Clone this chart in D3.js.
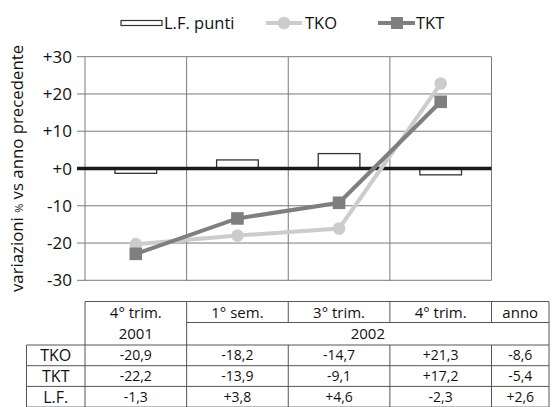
<!DOCTYPE html>
<html><head><meta charset="utf-8">
<script src="https://cdn.jsdelivr.net/npm/d3@7"></script>
<style>body{margin:0;background:#fff}svg{display:block}text{font-family:"Open Sans",sans-serif;fill:#111}</style>
</head><body><svg id="c" width="553" height="407"></svg>
<script>
const categories = ["4° trim. 2001", "1° sem. 2002", "3° trim. 2002", "4° trim. 2002"];
const lfBars = [-1.3, 2.3, 4.0, -1.7];
const tkoValues = [-20.3, -18.0, -16.1, 22.8];
const tktValues = [-22.9, -13.4, -9.2, 17.9];
const yTicks = [-30, -20, -10, 0, 10, 20, 30];
const yTickLabels = ["-30", "-20", "-10", "+0", "+10", "+20", "+30"];
const tableHeader1 = ["4° trim.", "1° sem.", "3° trim.", "4° trim.", "anno"];
const tableYears = ["2001", "2002"];
const tableRowLabels = ["TKO", "TKT", "L.F."];
const tableTKO = ["-20,9", "-18,2", "-14,7", "+21,3", "-8,6"];
const tableTKT = ["-22,2", "-13,9", "-9,1", "+17,2", "-5,4"];
const tableLF = ["-1,3", "+3,8", "+4,6", "-2,3", "+2,6"];
const legendLabels = ["L.F. punti", "TKO", "TKT"];

const svg = d3.select("#c");
const L = 85, R = 491.5, T = 56.7, B = 280.3;
const x = d3.scaleBand().domain(categories).range([L, R]).padding(0);
const y = d3.scaleLinear().domain([-30, 30]).range([B, T]);
const gridC = "#7a7a7a", tkoC = "#cccccc", tktC = "#7f7f7f";

const g = svg.append("g");
g.selectAll("line.h").data(yTicks).join("line")
  .attr("x1", L - 8).attr("x2", R).attr("y1", d => y(d)).attr("y2", d => y(d))
  .attr("stroke", gridC).attr("stroke-width", 1);
const vlines = categories.map(c => x(c)).concat([R]);
g.selectAll("line.v").data(vlines).join("line")
  .attr("x1", d => d).attr("x2", d => d).attr("y1", T).attr("y2", B)
  .attr("stroke", gridC).attr("stroke-width", 1);

svg.append("g").selectAll("text").data(yTicks).join("text")
  .attr("x", 72).attr("y", d => y(d)).attr("dy", "0.36em")
  .attr("text-anchor", "end").attr("font-size", 17)
  .text((d, i) => yTickLabels[i]);

const yt = svg.append("text").attr("transform", `translate(23,${(T + B) / 2}) rotate(-90)`)
  .attr("text-anchor", "middle").attr("font-size", 16.8).attr("fill", "#222");
yt.append("tspan").text("variazioni ");
yt.append("tspan").attr("font-size", 11).text("%");
yt.append("tspan").text(" vs anno precedente");

const bw = x.bandwidth() * 0.41;
svg.append("g").selectAll("rect").data(lfBars).join("rect")
  .attr("x", (d, i) => x(categories[i]) + x.bandwidth() / 2 - bw / 2)
  .attr("width", bw)
  .attr("y", d => y(Math.max(0, d)))
  .attr("height", d => Math.abs(y(d) - y(0)))
  .attr("fill", "#fff").attr("stroke", "#333").attr("stroke-width", 1.3);

svg.append("line").attr("x1", L - 8).attr("x2", R).attr("y1", y(0)).attr("y2", y(0))
  .attr("stroke", "#1a1a1a").attr("stroke-width", 3.5);

const cx = (d, i) => x(categories[i]) + x.bandwidth() / 2;
const line = d3.line().x((d, i) => cx(d, i)).y(d => y(d));
svg.append("path").attr("d", line(tkoValues)).attr("fill", "none").attr("stroke", tkoC).attr("stroke-width", 4);
svg.append("g").selectAll("circle").data(tkoValues).join("circle")
  .attr("cx", cx).attr("cy", d => y(d)).attr("r", 6.3).attr("fill", tkoC);
svg.append("path").attr("d", line(tktValues)).attr("fill", "none").attr("stroke", tktC).attr("stroke-width", 4);
svg.append("g").selectAll("rect").data(tktValues).join("rect")
  .attr("x", (d, i) => cx(d, i) - 6.3).attr("y", d => y(d) - 6.3)
  .attr("width", 12.6).attr("height", 12.6).attr("fill", tktC);

const ly = 23;
const lg = svg.append("g");
lg.append("rect").attr("x", 121).attr("y", ly - 2.5).attr("width", 41).attr("height", 5)
  .attr("fill", "#fff").attr("stroke", "#333").attr("stroke-width", 1.2);
lg.append("text").attr("x", 164).attr("y", ly).attr("dy", "0.36em").attr("font-size", 16.5).text(legendLabels[0]);
lg.append("line").attr("x1", 266).attr("x2", 302).attr("y1", ly).attr("y2", ly).attr("stroke", tkoC).attr("stroke-width", 4);
lg.append("circle").attr("cx", 284).attr("cy", ly).attr("r", 6.3).attr("fill", tkoC);
lg.append("text").attr("x", 305).attr("y", ly).attr("dy", "0.36em").attr("font-size", 16.5).text(legendLabels[1]);
lg.append("line").attr("x1", 378).attr("x2", 415).attr("y1", ly).attr("y2", ly).attr("stroke", tktC).attr("stroke-width", 4);
lg.append("rect").attr("x", 391).attr("y", ly - 6).attr("width", 12).attr("height", 12).attr("fill", tktC);
lg.append("text").attr("x", 416).attr("y", ly).attr("dy", "0.36em").attr("font-size", 16.5).text(legendLabels[2]);

const tc = "#555";
const colEdges = vlines.concat([549]);
const tTop = 301.5, tRow1 = 322.5, tHead = 345, rowH = 20.7;
const tg = svg.append("g").attr("stroke", tc).attr("stroke-width", 1).attr("fill", "none");
const hl = (x1, x2, yy) => tg.append("line").attr("x1", x1).attr("x2", x2).attr("y1", yy).attr("y2", yy);
const vl = (xx, y1, y2) => tg.append("line").attr("x1", xx).attr("x2", xx).attr("y1", y1).attr("y2", y2);
const tLeft = 26.5, tBottom = tHead + rowH * 3;
hl(L, 549, tTop);
hl(colEdges[1], 549, tRow1);
for (let r = 0; r <= 3; r++) hl(tLeft, 549, tHead + rowH * r);
vl(tLeft, tHead, tBottom);
vl(L, tTop, tBottom);
vl(549, tTop, tBottom);
vl(colEdges[1], tTop, tBottom);
[2, 3, 4].forEach(k => { vl(colEdges[k], tTop, tRow1); vl(colEdges[k], tHead, tBottom); });

const colMid = k => (colEdges[k] + colEdges[k + 1]) / 2;
const tt = svg.append("g");
tableHeader1.forEach((t, k) => tt.append("text").attr("x", colMid(k)).attr("y", (tTop + tRow1) / 2 + 1)
  .attr("dy", "0.36em").attr("text-anchor", "middle").attr("font-size", 15).text(t));
tt.append("text").attr("x", colMid(0)).attr("y", (tRow1 + tHead) / 2).attr("dy", "0.36em")
  .attr("text-anchor", "middle").attr("font-size", 15).text(tableYears[0]);
tt.append("text").attr("x", (colEdges[1] + 549) / 2).attr("y", (tRow1 + tHead) / 2).attr("dy", "0.36em")
  .attr("text-anchor", "middle").attr("font-size", 15).text(tableYears[1]);
[tableTKO, tableTKT, tableLF].forEach((row, r) => {
  const yy = tHead + rowH * r + rowH / 2;
  tt.append("text").attr("x", (tLeft + L) / 2).attr("y", yy).attr("dy", "0.36em")
    .attr("text-anchor", "middle").attr("font-size", 16).text(tableRowLabels[r]);
  row.forEach((v, k) => tt.append("text").attr("x", colMid(k)).attr("y", yy).attr("dy", "0.36em")
    .attr("text-anchor", "middle").attr("font-size", 14).text(v));
});
</script></body></html>
